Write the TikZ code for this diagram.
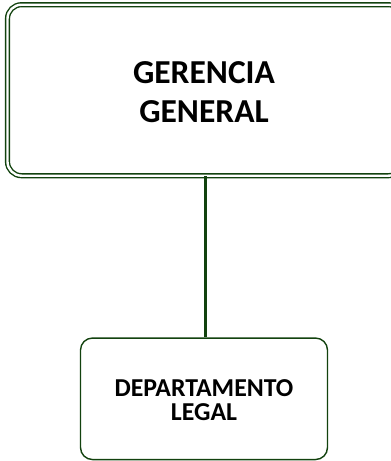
\documentclass[tikz,border=0pt]{standalone}
\usepackage{fontspec}
\setmainfont{Carlito}
\definecolor{dkgreen}{RGB}{18,66,14}
\begin{document}
\begin{tikzpicture}[x=1pt,y=-1pt,
  topbox/.style={draw=dkgreen, line width=1.4pt, double=white, double distance=2.4pt,
    rounded corners=14pt, minimum width=395pt, minimum height=171pt, inner sep=0pt,
    align=center, font=\bfseries\fontsize{33.5}{39}\selectfont},
  subbox/.style={draw=dkgreen, line width=1.4pt, rounded corners=12pt,
    minimum width=247pt, minimum height=121.5pt, inner sep=0pt,
    align=center, font=\bfseries\fontsize{25.8}{24.5}\selectfont},
  link/.style={draw=dkgreen, line width=3pt}]
\useasboundingbox (0,0) rectangle (391,461);
\clip (0,0) rectangle (391,461);
\fill[white] (0,0) rectangle (391,461);
\node[topbox] (gg) at (205,90.2) {};
\node[align=center, font=\bfseries\fontsize{33.5}{39}\selectfont] (ggt) at (204,92.5) {GERENCIA\\GENERAL};
\node[subbox] (dl) at (204,398.8) {};
\node[align=center, font=\bfseries\fontsize{25.8}{24.5}\selectfont] (dlt) at (204,400) {DEPARTAMENTO\\LEGAL};
\draw[link] (gg.south -| 205,0) -- (dl.north -| 205,0);
\end{tikzpicture}
\end{document}
